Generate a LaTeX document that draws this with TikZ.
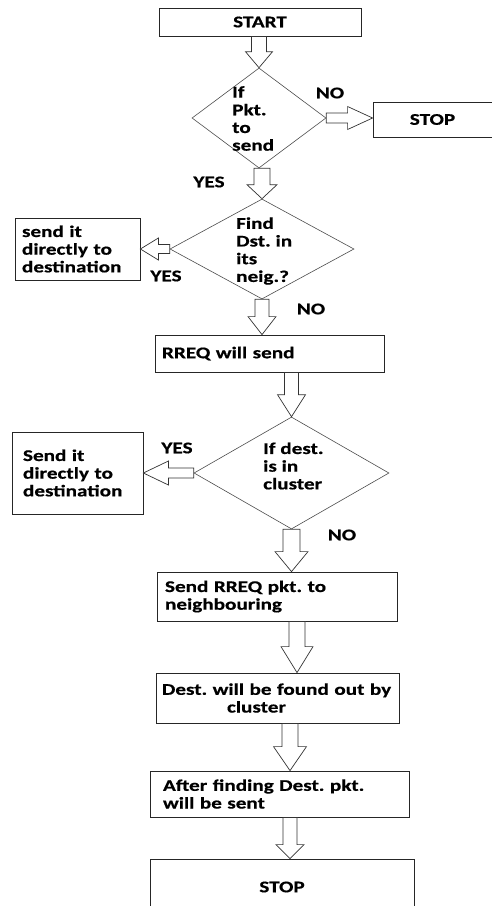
\documentclass[tikz,border=0pt]{standalone}
\usepackage{fontspec}
\setmainfont{Carlito}[FakeStretch=1.3, BoldFeatures={FakeBold=0.6}]
\usetikzlibrary{shapes.geometric,calc}
\frenchspacing

\tikzset{
  txt/.style={font=\bfseries\fontsize{16.3}{17.7}\selectfont},
  box/.style={draw=black!85, line width=0.8pt, inner ysep=0pt, align=left, txt},
  decision/.style={diamond, draw=black!70, line width=0.6pt, inner sep=0pt},
  dtext/.style={anchor=west, align=left, inner sep=0pt, txt},
  lbl/.style={inner sep=0pt, txt},
  blk/.style={draw=black!80, line width=0.7pt, fill=white, line join=miter},
}

% hollow block arrow: source, tip, shaft half width, head half width, head length
\newcommand{\blkarrow}[5]{%
  \coordinate (s) at (#1);
  \coordinate (t) at (#2);
  \coordinate (h) at ($(t)!#5!(s)$);
  \draw[blk] ($(s)!#3!90:(t)$) -- ($(h)!#3!90:(t)$) -- ($(h)!#4!90:(t)$) -- (t)
    -- ($(h)!#4!-90:(t)$) -- ($(h)!#3!-90:(t)$) -- ($(s)!#3!-90:(t)$) -- cycle;
}

\begin{document}
\begin{tikzpicture}[x=1pt,y=-1pt]
\useasboundingbox (0,0) rectangle (491,906);

% boxes
\node[box, align=center, minimum width=202, minimum height=28] (start) at (260,22) {START};
\node[box, align=center, minimum width=119, minimum height=35] (stop1) at (432.5,119.5) {STOP};
\node[box, text width=111pt, inner xsep=7pt, minimum height=62] (send1) at (77.5,249) {send it\\directly to\\destination};
\node[box, text width=215pt, inner xsep=7pt, minimum height=37] (rreq) at (269.5,353.5) {RREQ will send};
\node[box, text width=109pt, inner xsep=11pt, minimum height=82] (send2) at (77.5,473) {Send it\\directly to\\destination};
\node[box, text width=224pt, inner xsep=8pt, minimum height=49] (nbr) at (277,596.5) {Send RREQ pkt. to\\neighbouring};
\node[box, text width=231pt, inner xsep=6pt, minimum height=50] (found) at (277.5,698) {Dest. will be found out by\\\hspace*{65pt}cluster};
\node[box, text width=233pt, inner xsep=13pt, minimum height=46] (after) at (279.5,794) {After finding Dest. pkt.\\will be sent};
\node[box, align=center, minimum width=264, minimum height=56] (stop2) at (282,887) {STOP};

% decisions
\node[decision, minimum width=134, minimum height=100] (d1) at (259,118) {};
\node[dtext] (d1t) at (232,118.5) {If\\Pkt.\\to\\send};
\node[decision, minimum width=184, minimum height=100] (d2) at (262,249) {};
\node[dtext] (d2t) at (236,251) {Find\\Dst. in\\its\\neig.?};
\node[decision, minimum width=195, minimum height=112] (d3) at (291.5,473) {};
\node[dtext] (d3t) at (263,466) {If dest.\\is in\\cluster};

% labels
\node[lbl] (no1) at (330,93) {NO};
\node[lbl] (yes1) at (209,182) {YES};
\node[lbl] (yes2) at (166,276) {YES};
\node[lbl] (no2) at (311,309) {NO};
\node[lbl] (yes3) at (177,448) {YES};
\node[lbl] (no3) at (342,535) {NO};

% arrows
\blkarrow{d1.north |- start.south}{d1.north}{7.5pt}{13.5pt}{16pt}
\blkarrow{d1.east}{stop1.west |- d1.east}{5pt}{11.5pt}{25pt}
\blkarrow{d2.north |- d1.south}{d2.north}{8pt}{15pt}{14pt}
\blkarrow{d2.west}{send1.east |- d2.west}{4.5pt}{11pt}{18pt}
\blkarrow{d2.south}{d2.south |- rreq.north}{7pt}{14pt}{18pt}
\blkarrow{d3.north |- rreq.south}{d3.north}{7pt}{14pt}{22pt}
\blkarrow{d3.west}{send2.east |- d3.west}{5pt}{12pt}{25pt}
\blkarrow{d3.south}{d3.south |- nbr.north}{8.5pt}{16.5pt}{20pt}
\blkarrow{$(nbr.south)+(20,0)$}{$(found.north)+(19.5,0)$}{8pt}{16pt}{26pt}
\blkarrow{$(found.south)+(12.5,0)$}{$(after.north)+(10.5,0)$}{8pt}{16.5pt}{24pt}
\blkarrow{$(after.south)+(10.5,0)$}{$(stop2.north)+(8,0)$}{7pt}{14pt}{14pt}

\end{tikzpicture}
\end{document}
